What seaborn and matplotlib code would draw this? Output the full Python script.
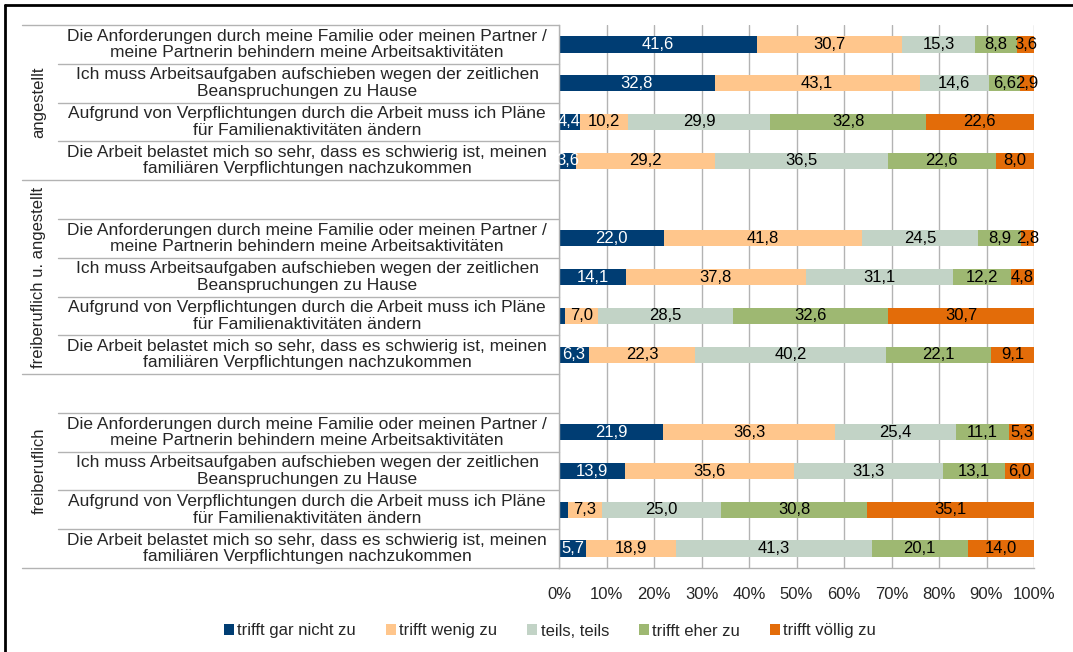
import numpy as np
import pandas as pd
import matplotlib
matplotlib.use("Agg")
import matplotlib.pyplot as plt
from matplotlib.lines import Line2D
from matplotlib.patches import Patch
import seaborn as sns

GROUPS = ["angestellt", "freiberuflich u. angestellt", "freiberuflich"]
STATEMENTS = [
    "Die Anforderungen durch meine Familie oder meinen Partner /\nmeine Partnerin behindern meine Arbeitsaktivitäten",
    "Ich muss Arbeitsaufgaben aufschieben wegen der zeitlichen\nBeanspruchungen zu Hause",
    "Aufgrund von Verpflichtungen durch die Arbeit muss ich Pläne\nfür Familienaktivitäten ändern",
    "Die Arbeit belastet mich so sehr, dass es schwierig ist, meinen\nfamiliären Verpflichtungen nachzukommen",
]
RESPONSES = ["trifft gar nicht zu", "trifft wenig zu", "teils, teils",
             "trifft eher zu", "trifft völlig zu"]
COLORS = ["#003d73", "#ffc68c", "#c2d3c6", "#9eb872", "#e36c09"]

# values per response, group-major (4 statements x 3 groups)
gar_nicht = [41.6, 32.8, 4.4, 3.6, 22.0, 14.1, 1.2, 6.3, 21.9, 13.9, 1.8, 5.7]
wenig = [30.7, 43.1, 10.2, 29.2, 41.8, 37.8, 7.0, 22.3, 36.3, 35.6, 7.3, 18.9]
teils = [15.3, 14.6, 29.9, 36.5, 24.5, 31.1, 28.5, 40.2, 25.4, 31.3, 25.0, 41.3]
eher = [8.8, 6.6, 32.8, 22.6, 8.9, 12.2, 32.6, 22.1, 11.1, 13.1, 30.8, 20.1]
voellig = [3.6, 2.9, 22.6, 8.0, 2.8, 4.8, 30.7, 9.1, 5.3, 6.0, 35.1, 14.0]
SERIES = [gar_nicht, wenig, teils, eher, voellig]

# slot order top -> bottom; groups 2 and 3 start with an empty slot
slots = []
rows = []
k = 0
for g, grp in enumerate(GROUPS):
    if g > 0:
        slots.append(f"blank{g}")
    for s, stmt in enumerate(STATEMENTS):
        sid = f"{g}_{s}"
        slots.append(sid)
        rows.append({"slot": sid, "group": grp, "statement": stmt,
                     **{r: SERIES[i][k] for i, r in enumerate(RESPONSES)}})
        k += 1
df = pd.DataFrame(rows)
cum = df[RESPONSES].cumsum(axis=1)

W, H = 1073, 652
fig = plt.figure(figsize=(W / 100, H / 100), dpi=100)
sns.set_style("white")
plt.rcParams["font.family"] = ["Liberation Sans", "DejaVu Sans"]

AX_L, AX_R, AX_T, AX_B = 559, 1034, 25, 568
ax = fig.add_axes([AX_L / W, 1 - AX_B / H, (AX_R - AX_L) / W, (AX_B - AX_T) / H])


def px2ax(x):
    return (x - AX_L) / (AX_R - AX_L)


# stacked bars: draw cumulative totals from the outside in
for r, c in reversed(list(zip(RESPONSES, COLORS))):
    sns.barplot(x=cum[r], y=df["slot"], order=slots, orient="h", color=c,
                width=0.42, saturation=1, linewidth=0, errorbar=None, ax=ax)

pos = {s: i for i, s in enumerate(slots)}
for i, row in df.iterrows():
    y = pos[row["slot"]]
    left = 0
    for j, r in enumerate(RESPONSES):
        v = row[r]
        if v >= 2:
            ax.text(left + v / 2, y, f"{v:.1f}".replace(".", ","), ha="center",
                    va="center", fontsize=12,
                    color="white" if j == 0 else "black")
        left += v

ax.set_xlim(0, 100)
ax.set_ylim(len(slots) - 0.5, -0.5)
ax.set_xticks(np.arange(0, 101, 10))
ax.set_xticklabels([f"{t}%" for t in range(0, 101, 10)], fontsize=12)
ax.set_yticks([])
ax.set_xlabel("")
ax.set_ylabel("")
ax.xaxis.grid(True, color="#b3b3b3", lw=1)
ax.set_axisbelow(True)
ax.tick_params(axis="x", length=5, pad=9, color="#b3b3b3", width=1)
for sp in ["top", "right"]:
    ax.spines[sp].set_visible(False)
for sp in ["left", "bottom"]:
    ax.spines[sp].set_color("#b3b3b3")
    ax.spines[sp].set_linewidth(1)

# row labels and separators on the left side
trans = ax.get_yaxis_transform()
group_edges = [-0.5, 3.5, 8.5, 13.5]
for b in np.arange(-0.5, len(slots), 1.0):
    x0 = 22 if b in group_edges else 58
    ax.plot([px2ax(x0), 0], [b, b], transform=trans, color="#b3b3b3",
            lw=1, clip_on=False)
for _, row in df.iterrows():
    ax.text(px2ax(307), pos[row["slot"]], row["statement"], transform=trans,
            ha="center", va="center", fontsize=12.5, linespacing=1.12)
for g, grp in enumerate(GROUPS):
    mid = (group_edges[g] + group_edges[g + 1]) / 2
    ax.text(px2ax(39), mid, grp, transform=trans, rotation=90,
            ha="center", va="center", fontsize=12)

handles = [Patch(facecolor=c, edgecolor="none") for c in COLORS]
fig.legend(handles, RESPONSES, loc="center", ncol=5, frameon=False,
           bbox_to_anchor=(550 / W, 1 - 631 / H), fontsize=12,
           handlelength=0.6, handleheight=0.6, handletextpad=0.2,
           columnspacing=1.8)

# outer chart frame (only left and top edges are visible in the crop)
fig.add_artist(Line2D([5 / W, 5 / W], [0, 1 - 5 / H], color="black", lw=2))
fig.add_artist(Line2D([5 / W, 1], [1 - 5 / H, 1 - 5 / H], color="black", lw=2))

fig.savefig("out.png", dpi=100)
